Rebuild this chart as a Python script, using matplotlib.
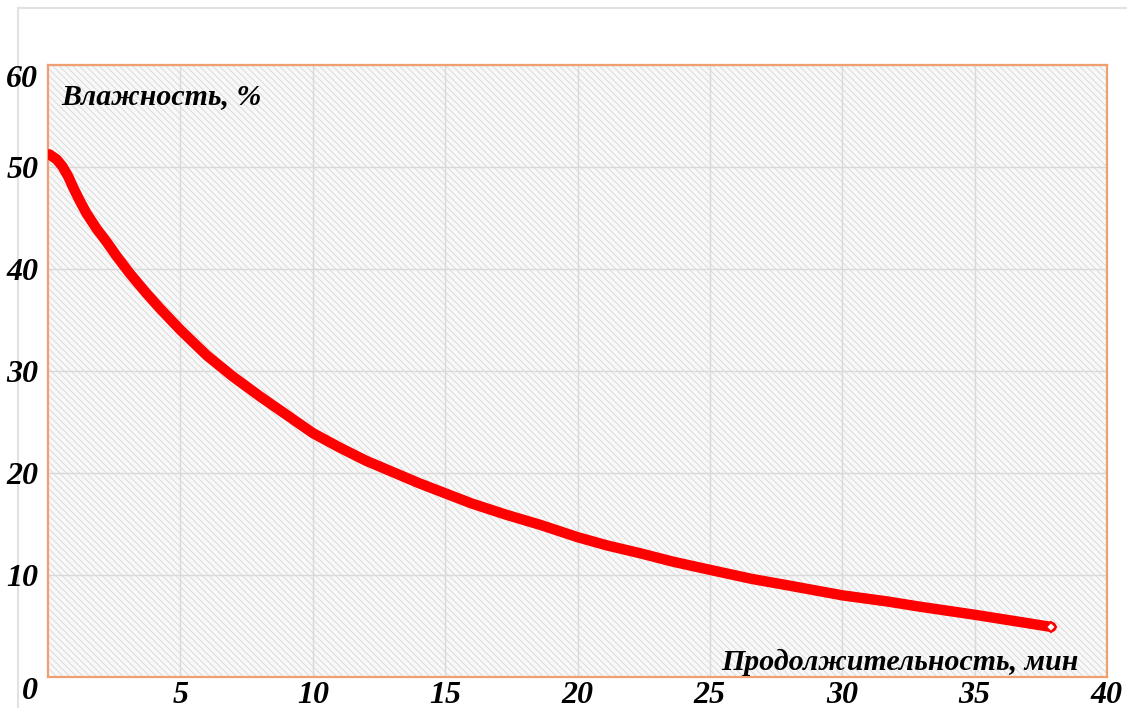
import matplotlib
matplotlib.use("Agg")
import matplotlib.pyplot as plt
from matplotlib.patches import Rectangle
from matplotlib.lines import Line2D

# data
time_min = [0.05, 0.33, 0.55, 0.77, 0.96, 1.21, 1.46, 1.84, 2.22, 2.6, 3.1, 3.73,
            4.23, 5.0, 6.0, 7.0, 8.0, 9.0, 10.0, 11.0, 12.0, 13.0, 14.0, 15.0,
            16.0, 17.3, 18.6, 20.0, 21.1, 22.4, 23.6, 25.0, 26.6, 27.9, 30.0,
            31.7, 32.9, 35.0, 36.7, 37.9]
moisture = [51.2, 50.7, 50.0, 49.0, 47.9, 46.6, 45.4, 43.9, 42.6, 41.2, 39.5,
            37.55, 36.1, 34.0, 31.5, 29.4, 27.5, 25.7, 23.9, 22.5, 21.2, 20.1,
            19.0, 18.0, 17.0, 15.9, 14.9, 13.7, 12.9, 12.1, 11.3, 10.5, 9.6,
            9.0, 8.0, 7.4, 6.9, 6.1, 5.4, 4.9]
xticks = [5, 10, 15, 20, 25, 30, 35, 40]
yticks = [0, 10, 20, 30, 40, 50, 60]
ylabel = "Влажность, %"
xlabel = "Продолжительность, мин"

plt.rcParams['font.family'] = ['Liberation Serif', 'DejaVu Serif']
plt.rcParams['hatch.linewidth'] = 0.6
tick_font = dict(weight='bold', style='italic', size=23)
label_font = dict(weight='bold', style='italic', size=21.5)

fig = plt.figure(figsize=(11.27, 7.08), dpi=100)
# light frame around the picture, kept under the text
fig.add_artist(Line2D([18/1127, 1], [1-8/708, 1-8/708], color='#e2e2e2', lw=1.5, zorder=-1))
fig.add_artist(Line2D([18/1127, 18/1127], [0, 1-8/708], color='#e2e2e2', lw=1.5, zorder=-1))

ax = fig.add_axes([48/1127, 31/708, 1059/1127, 612.5/708])
ax.add_patch(Rectangle((0, 0), 1, 1, transform=ax.transAxes, facecolor='#f8f8f8',
                       edgecolor='#d6d6d6', hatch='\\' * 5, lw=0, zorder=0))

ax.plot(time_min, moisture, color='#ff0000', lw=7.5, solid_capstyle='round',
        solid_joinstyle='round', zorder=3)
ax.plot(time_min[-1:], moisture[-1:], ls='none', marker='D', ms=5, mfc='white',
        mec='#ff0000', mew=1.5, zorder=4)

ax.set_xlim(0, 40)
ax.set_ylim(0, 60)
ax.set_xticks(xticks)
ax.set_yticks(yticks)
ax.set_xticklabels([str(t) for t in xticks], **tick_font)
ax.set_yticklabels([str(t) for t in yticks], **tick_font)
for lab in ax.get_yticklabels():
    if lab.get_text() in ('0', '60'):
        lab.set_verticalalignment('top')
ax.tick_params(axis='x', length=0, pad=3)
ax.tick_params(axis='y', length=0, pad=7)
ax.grid(True, color='#d9d9d9', lw=1, zorder=1)
ax.set_axisbelow(True)
for sp in ax.spines.values():
    sp.set_color('#f0a070')
    sp.set_linewidth(1.6)

ax.text(0.013, 0.97, ylabel, transform=ax.transAxes, ha='left', va='top', **label_font)
ax.text(0.9736, 0.0114, xlabel, transform=ax.transAxes, ha='right', va='baseline', **label_font)

fig.savefig('out.png', dpi=100)
